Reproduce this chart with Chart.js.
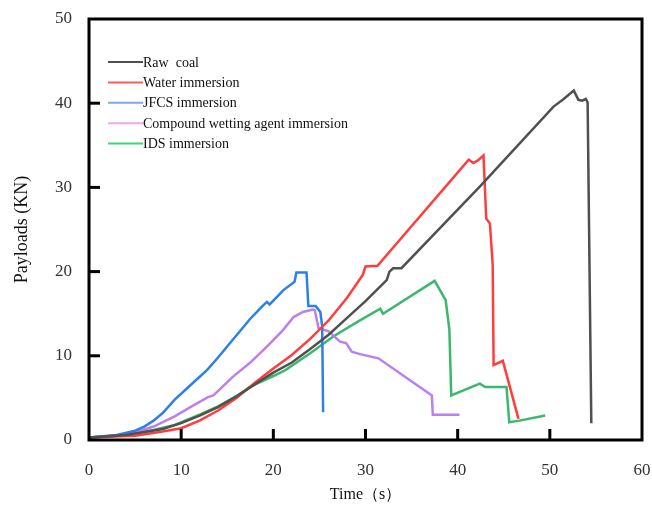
<!DOCTYPE html>
<html>
<head>
<meta charset="utf-8">
<script src="https://cdn.jsdelivr.net/npm/chart.js@4.4.1/dist/chart.umd.min.js"></script>
<style>
  html, body { margin: 0; padding: 0; background: #fff; }
  #wrap { width: 652px; height: 508px; }
</style>
</head>
<body>
<div id="wrap"><canvas id="chart" width="652" height="508"></canvas></div>
<script>
// Load-time curves (time in s, payload in KN)
const rawCoalTime = [0, 4, 8, 10, 12, 14, 16, 18, 20, 22, 24, 26, 28, 30, 32.3, 32.6, 33.0, 33.9, 42.4, 50.4, 51.4, 52.6, 53.1, 53.5, 53.9, 54.1, 54.5];
const rawCoalLoad = [0.3, 0.6, 1.3, 2.0, 2.9, 3.9, 5.2, 6.6, 8.0, 9.2, 10.8, 12.5, 14.5, 16.5, 19.0, 20.0, 20.4, 20.4, 30.1, 39.6, 40.4, 41.5, 40.4, 40.3, 40.5, 40.1, 2.0];

const waterTime = [0, 5, 8, 10, 12, 14, 16, 18, 20, 22, 24, 26, 28, 29.7, 30.0, 31.3, 41.2, 41.7, 42.2, 42.8, 43.1, 43.5, 43.8, 43.9, 44.9, 46.6];
const waterLoad = [0.3, 0.5, 1.0, 1.4, 2.3, 3.5, 5.0, 6.8, 8.5, 10.1, 12.0, 14.2, 16.9, 19.6, 20.6, 20.7, 33.3, 32.9, 33.2, 33.8, 26.3, 25.7, 20.8, 8.9, 9.4, 2.5];

const jfcsTime = [0, 3, 5, 6, 7, 8, 9.3, 11, 12.8, 14, 15.6, 17.5, 18.9, 19.3, 19.6, 21.1, 22.3, 22.5, 23.6, 23.8, 24.6, 25.1, 25.3, 25.4];
const jfcsLoad = [0.3, 0.6, 1.1, 1.6, 2.3, 3.2, 4.8, 6.5, 8.3, 9.8, 11.9, 14.4, 16.0, 16.4, 16.1, 17.8, 18.8, 19.9, 19.9, 15.9, 15.9, 15.2, 13.5, 3.3];

const compoundTime = [0, 3, 5, 7, 9.3, 11, 12.9, 13.5, 15.6, 17.5, 19.3, 21, 22.2, 23.2, 24.3, 24.5, 24.9, 26.0, 27.2, 27.9, 28.5, 29.4, 31.4, 37.2, 37.3, 40.2];
const compoundLoad = [0.3, 0.5, 0.9, 1.6, 2.8, 3.9, 5.1, 5.3, 7.5, 9.2, 11.1, 13.0, 14.6, 15.2, 15.5, 15.4, 13.3, 12.9, 11.7, 11.5, 10.5, 10.2, 9.7, 5.3, 3.0, 3.0];

const idsTime = [0, 3, 5, 7, 9.3, 12, 14, 16, 17.6, 20, 21.3, 24, 26.5, 29.4, 31.6, 31.9, 37.5, 38.7, 39.1, 39.3, 42.4, 43.0, 45.3, 45.6, 46.7, 49.5];
const idsLoad = [0.3, 0.5, 0.8, 1.2, 1.8, 3.0, 4.0, 5.2, 6.4, 7.6, 8.3, 10.3, 12.3, 14.2, 15.6, 15.0, 18.9, 16.6, 13.1, 5.3, 6.7, 6.3, 6.3, 2.1, 2.3, 2.9];

const seriesNames = ['Raw  coal', 'Water immersion', 'JFCS immersion', 'Compound wetting agent immersion', 'IDS immersion'];
const lineColors = ['#505050', '#ff3d3d', '#2e7fe8', '#bb80f0', '#3cb86a'];
const legendColors = ['#505050', '#ff5a5a', '#7fa6ec', '#f3a6ea', '#3fd27f'];

const xTicks = [0, 10, 20, 30, 40, 50, 60];
const yTicks = [0, 10, 20, 30, 40, 50];

const toPoints = (xs, ys) => xs.map((x, i) => ({ x: x, y: ys[i] }));
const curves = [
  toPoints(rawCoalTime, rawCoalLoad),
  toPoints(waterTime, waterLoad),
  toPoints(jfcsTime, jfcsLoad),
  toPoints(compoundTime, compoundLoad),
  toPoints(idsTime, idsLoad)
];

const serif = '"Liberation Serif", "Times New Roman", serif';

// Box frame, inward tick marks and the in-plot legend
const framePlugin = {
  id: 'frame',
  afterDatasetsDraw(chart) {
    const { ctx, chartArea: a, scales } = chart;
    ctx.save();
    ctx.strokeStyle = '#000';
    ctx.lineWidth = 3;
    ctx.strokeRect(a.left, a.top, a.right - a.left, a.bottom - a.top);

    xTicks.slice(1, -1).forEach(v => {
      const px = scales.x.getPixelForValue(v);
      ctx.beginPath();
      ctx.moveTo(px, a.bottom);
      ctx.lineTo(px, a.bottom - 11);
      ctx.stroke();
    });
    yTicks.slice(1, -1).forEach(v => {
      const py = scales.y.getPixelForValue(v);
      ctx.beginPath();
      ctx.moveTo(a.left, py);
      ctx.lineTo(a.left + 11, py);
      ctx.stroke();
    });

    // legend
    ctx.font = '14px ' + serif;
    ctx.textBaseline = 'middle';
    ctx.fillStyle = '#111';
    seriesNames.forEach((name, i) => {
      const y = 62 + i * 20.4;
      ctx.strokeStyle = legendColors[i];
      ctx.lineWidth = 2;
      ctx.beginPath();
      ctx.moveTo(108, y);
      ctx.lineTo(143, y);
      ctx.stroke();
      ctx.fillText(name, 143, y + 1);
    });
    ctx.restore();
  }
};

new Chart(document.getElementById('chart'), {
  type: 'line',
  data: {
    datasets: curves.map((pts, i) => ({
      label: seriesNames[i],
      data: pts,
      borderColor: lineColors[i],
      borderWidth: 2.5,
      pointRadius: 0,
      tension: 0,
      fill: false
    }))
  },
  options: {
    responsive: false,
    animation: false,
    layout: { padding: { top: 19, right: 10, left: 0, bottom: 0 } },
    plugins: {
      legend: { display: false },
      tooltip: { enabled: false }
    },
    scales: {
      x: {
        type: 'linear',
        min: 0,
        max: 60,
        afterFit: (s) => { s.height = 68; s.paddingLeft = 0; s.paddingRight = 0; },
        afterBuildTicks: (s) => { s.ticks = xTicks.map(v => ({ value: v })); },
        grid: { display: false, drawTicks: false },
        border: { display: false },
        ticks: {
          padding: 20,
          color: '#333',
          font: { family: serif, size: 17 }
        },
        title: {
          display: true,
          text: 'Time（s）',
          color: '#111',
          padding: { top: 13 },
          font: { family: serif, size: 16 }
        }
      },
      y: {
        type: 'linear',
        min: 0,
        max: 50,
        afterFit: (s) => { s.width = 89; s.paddingTop = 0; s.paddingBottom = 0; },
        afterBuildTicks: (s) => { s.ticks = yTicks.map(v => ({ value: v })); },
        grid: { display: false, drawTicks: false },
        border: { display: false },
        ticks: {
          padding: 17,
          color: '#333',
          font: { family: serif, size: 17 }
        },
        title: {
          display: true,
          text: 'Payloads (KN)',
          color: '#111',
          padding: { bottom: 0, top: 11 },
          font: { family: serif, size: 18 }
        }
      }
    }
  },
  plugins: [framePlugin]
});
</script>
</body>
</html>
